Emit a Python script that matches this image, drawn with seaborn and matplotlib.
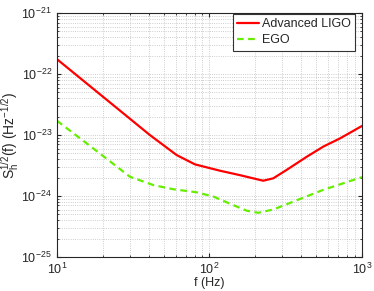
import numpy as np
import pandas as pd
import matplotlib
matplotlib.use("Agg")
import matplotlib.pyplot as plt
import matplotlib.ticker as mticker
import seaborn as sns

# Values
ligo_f = [10, 40.7, 60.9, 80.4, 117, 158, 225, 262, 320, 434, 557, 717, 1000]
ligo_s = [1.76e-22, 1.0e-23, 4.7e-24, 3.3e-24, 2.6e-24, 2.2e-24, 1.78e-24,
          1.95e-24, 2.67e-24, 4.4e-24, 6.45e-24, 8.8e-24, 1.41e-23]

ego_f = [10, 17.3, 30.1, 42.9, 58, 82.4, 106, 143, 175, 209, 262, 355, 557, 1000]
ego_s = [1.72e-23, 6.05e-24, 2.07e-24, 1.51e-24, 1.29e-24, 1.15e-24, 9.8e-25,
         7.1e-25, 5.75e-25, 5.3e-25, 6.0e-25, 8.1e-25, 1.26e-24, 2.04e-24]

series_names = ["Advanced LIGO", "EGO"]
x_ticks = [10, 100, 1000]
y_ticks = [1e-25, 1e-24, 1e-23, 1e-22, 1e-21]

df = pd.concat([
    pd.DataFrame({"f": ligo_f, "S": ligo_s, "detector": series_names[0]}),
    pd.DataFrame({"f": ego_f, "S": ego_s, "detector": series_names[1]}),
])

sns.set_style("ticks")
plt.rcParams['font.family'] = ['Liberation Sans', 'DejaVu Sans']
plt.rcParams['mathtext.fontset'] = 'custom'
plt.rcParams['mathtext.rm'] = 'Liberation Sans'
plt.rcParams['mathtext.it'] = 'Liberation Sans'

fig = plt.figure(figsize=(3.74, 2.91), dpi=100)
ax = fig.add_axes([0.152, 0.117, 0.816, 0.838])

sns.lineplot(data=df, x="f", y="S", hue="detector", style="detector",
             palette=["#ff0000", "#66ee00"], dashes=[(None, None), (3, 2)],
             linewidth=1.6, ax=ax, sort=False)

ax.set_xscale("log")
ax.set_yscale("log")
ax.set_xticks(x_ticks)
ax.set_yticks(y_ticks)
ax.xaxis.set_minor_locator(mticker.LogLocator(base=10, subs=np.arange(2, 10), numticks=20))
ax.yaxis.set_minor_locator(mticker.LogLocator(base=10, subs=np.arange(2, 10), numticks=20))
ax.xaxis.set_minor_formatter(mticker.NullFormatter())
ax.yaxis.set_minor_formatter(mticker.NullFormatter())
ax.set_xlim(10, 1000)
ax.set_ylim(1e-25, 1e-21)

ax.grid(True, which="both", linestyle=":", color="#bdbdbd", linewidth=0.6)
ax.tick_params(which="both", direction="in", top=True, right=True, labelsize=9)
ax.tick_params(which="major", length=3)
ax.tick_params(which="minor", length=1.5)
for sp in ax.spines.values():
    sp.set_linewidth(0.8)

ax.set_xlabel("f (Hz)", fontsize=9, labelpad=0)
ax.set_ylabel(r"S$_\mathregular{h}^\mathregular{1/2}$(f) (Hz$^\mathregular{-1/2}$)", fontsize=10, labelpad=0)

leg = ax.legend(title=None, loc="upper right", bbox_to_anchor=(0.977, 0.996),
                fontsize=9, frameon=True, fancybox=False, edgecolor="#333333",
                handlelength=1.7, borderpad=0.35, labelspacing=0.3,
                handletextpad=0.25, borderaxespad=0.0, framealpha=1)
leg.get_frame().set_linewidth(0.8)

fig.savefig("out.png", dpi=100)
